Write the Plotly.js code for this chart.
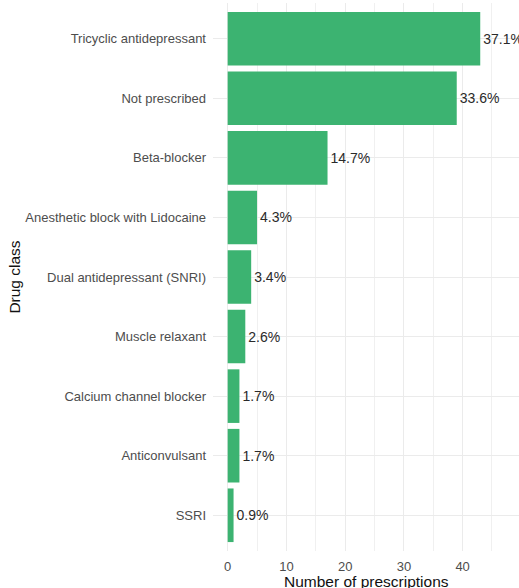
<!DOCTYPE html>
<html>
<head>
<meta charset="utf-8">
<script src="https://cdn.plot.ly/plotly-3.0.1.min.js"></script>
<style>html,body{margin:0;padding:0;background:#fff;}</style>
</head>
<body>
<div id="chart" style="width:519px;height:588px;"></div>
<script>
const categories = [
  "Tricyclic antidepressant",
  "Not prescribed",
  "Beta-blocker",
  "Anesthetic block with Lidocaine",
  "Dual antidepressant (SNRI)",
  "Muscle relaxant",
  "Calcium channel blocker",
  "Anticonvulsant",
  "SSRI"
];
const counts = [43, 39, 17, 5, 4, 3, 2, 2, 1];
const percentLabels = ["37.1%", "33.6%", "14.7%", "4.3%", "3.4%", "2.6%", "1.7%", "1.7%", "0.9%"];
const xTicks = [0, 10, 20, 30, 40];
const xTitle = 'Number of prescriptions';
const yTitle = 'Drug class';

const trace = {
  type: 'bar',
  orientation: 'h',
  x: counts,
  y: categories,
  width: 0.9,
  marker: {color: '#3CB371', line: {width: 0}},
  text: percentLabels,
  textposition: 'outside',
  cliponaxis: false,
  constraintext: 'none',
  textfont: {family: 'Liberation Sans, Arial, sans-serif', size: 14, color: '#2a2a2a'},
  hoverinfo: 'none'
};

const layout = {
  width: 519,
  height: 588,
  margin: {l: 213, r: 0, t: 3, b: 37, pad: 0},
  paper_bgcolor: '#ffffff',
  plot_bgcolor: '#ffffff',
  showlegend: false,
  font: {family: 'Liberation Sans, Arial, sans-serif', color: '#4d4d4d', size: 13},
  xaxis: {
    range: [-2.5, 49.6],
    tickvals: xTicks,
    ticktext: xTicks.map(String),
    showgrid: true,
    gridcolor: '#ebebeb',
    gridwidth: 1,
    minor: {dtick: 5, tick0: 0, showgrid: true, gridcolor: '#f0f0f0', gridwidth: 1},
    zeroline: false,
    showline: false,
    ticks: '',
    ticklabelstandoff: 6,
    tickfont: {size: 13, color: '#4d4d4d'},
    automargin: false,
    fixedrange: true
  },
  yaxis: {
    type: 'category',
    categoryorder: 'array',
    categoryarray: categories,
    range: [8.6, -0.6],
    showgrid: true,
    gridcolor: '#ebebeb',
    gridwidth: 1,
    zeroline: false,
    showline: false,
    ticks: '',
    ticklabelstandoff: 6,
    tickfont: {size: 13, color: '#4d4d4d'},
    title: {text: yTitle, font: {size: 15.5, color: '#111111'}, standoff: 0},
    automargin: false,
    fixedrange: true
  },
  annotations: [{
    text: xTitle,
    xref: 'paper', yref: 'paper',
    x: 0.5, y: 0,
    xanchor: 'center', yanchor: 'top',
    yshift: -21,
    showarrow: false,
    borderpad: 0,
    font: {family: 'Liberation Sans, Arial, sans-serif', size: 15.5, color: '#111111'}
  }]
};

Plotly.newPlot('chart', [trace], layout, {displayModeBar: false, staticPlot: true});
</script>
</body>
</html>
